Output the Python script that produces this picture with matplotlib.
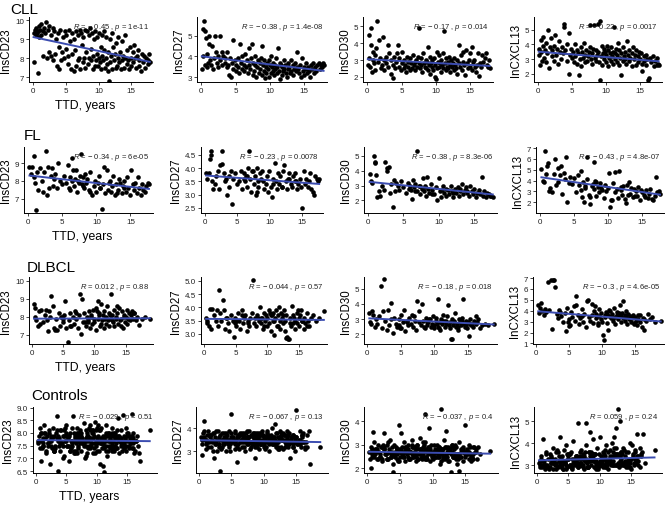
import matplotlib
matplotlib.use("Agg")
import matplotlib.pyplot as plt

plt.rcParams['font.family'] = ['Liberation Sans', 'DejaVu Sans']
plt.rcParams['mathtext.fontset'] = 'custom'
plt.rcParams['mathtext.it'] = 'Liberation Sans:italic'
plt.rcParams['mathtext.rm'] = 'Liberation Sans'

groups = ["CLL", "FL", "DLBCL", "Controls"]
markers = ["InsCD23", "InsCD27", "InsCD30", "InCXCL13"]

# ---- CLL ----
cll_ttd = [0.1,0.2,0.3,0.4,0.5,0.6,0.7,0.8,0.9,1.0,
           1.1,1.2,1.3,1.5,1.6,1.7,1.9,2.0,2.1,2.3,
           2.4,2.5,2.7,2.8,3.0,3.1,3.2,3.4,3.5,3.7,
           3.8,3.9,4.0,4.2,4.3,4.5,4.6,4.7,4.9,5.0,
           5.1,5.3,5.4,5.5,5.7,5.8,5.9,6.0,6.2,6.3,
           6.4,6.5,6.6,6.8,6.9,7.0,7.1,7.2,7.4,7.5,
           7.6,7.7,7.8,7.9,8.0,8.1,8.2,8.4,8.5,8.6,
           8.7,8.8,8.9,9.0,9.1,9.2,9.3,9.4,9.5,9.6,
           9.7,9.8,9.9,10.0,10.1,10.2,10.3,10.4,10.5,10.6,
           10.7,10.8,10.9,11.0,11.1,11.2,11.3,11.4,11.5,11.6,
           11.7,11.8,11.9,12.0,12.1,12.2,12.3,12.5,12.6,12.7,
           12.8,12.9,13.0,13.1,13.3,13.4,13.5,13.6,13.8,13.9,
           14.0,14.1,14.3,14.4,14.5,14.7,14.8,14.9,15.0,15.2,
           15.3,15.4,15.6,15.7,15.9,16.0,16.1,16.2,16.4,16.6,
           16.7,16.9,17.1,17.3,17.5,17.6,17.7,17.8]
cll_cd23 = [9.3,7.8,9.5,9.2,9.6,9.3,7.2,9.4,9.1,9.7,
            9.5,9.2,9.8,9.4,8.1,9.6,9.3,9.9,8.0,9.5,
            8.3,9.7,9.2,8.1,9.6,7.9,9.4,8.2,9.0,7.6,
            9.3,7.4,8.6,9.5,7.9,8.3,9.1,8.0,9.4,8.5,
            9.2,7.7,8.1,9.5,8.9,7.4,9.3,8.2,9.0,7.3,
            8.4,9.4,7.6,9.2,7.9,8.0,9.5,7.4,9.3,8.7,
            7.8,9.1,8.0,9.5,7.5,8.3,9.4,7.7,9.2,8.0,
            9.6,7.9,8.5,9.3,7.4,8.1,9.0,7.6,9.4,7.9,
            8.2,9.1,7.6,8.0,9.3,7.8,8.6,7.4,9.2,8.1,
            7.9,8.4,9.4,7.5,8.0,9.1,7.7,8.3,7.3,6.8,
            9.0,7.8,8.1,7.4,9.3,8.6,7.9,8.2,7.5,8.8,
            7.6,8.0,9.1,7.8,8.3,7.4,8.9,7.9,8.1,7.5,
            9.2,8.0,7.7,8.4,7.9,7.4,8.6,8.0,7.6,8.3,
            7.8,8.7,8.0,7.5,8.1,8.4,7.6,7.9,7.3,8.2,
            7.8,8.1,7.5,8.0,7.9,7.7,8.2,7.8]
cll_cd27 = [3.4,4.0,5.3,5.7,5.2,3.6,4.9,3.5,4.1,3.7,
            5.0,4.6,3.8,3.6,4.5,3.4,3.9,5.0,4.2,3.7,
            3.5,4.0,5.0,3.8,4.2,3.6,4.0,3.7,3.9,3.5,
            4.2,3.6,3.1,3.9,3.0,3.7,4.8,3.4,3.8,3.6,
            3.3,3.9,3.5,3.2,4.6,3.7,3.4,4.0,3.6,3.3,
            4.1,3.5,3.8,3.2,3.6,4.4,3.4,3.9,4.6,3.1,
            3.7,3.3,3.6,4.0,3.0,3.5,3.8,3.2,3.7,3.4,
            3.9,3.1,4.5,3.6,3.3,3.8,2.95,3.5,3.2,3.7,
            3.4,3.0,3.8,3.6,3.2,4.0,3.5,3.3,3.7,3.1,
            3.6,3.4,3.9,3.2,3.5,4.4,3.3,3.7,2.9,3.6,
            3.1,3.5,3.3,3.8,3.4,3.6,3.2,3.0,3.7,3.4,
            3.5,3.2,3.8,3.3,3.6,3.1,3.4,3.7,3.3,3.5,
            4.2,3.4,3.2,3.6,3.0,3.9,3.3,3.5,3.1,3.4,
            3.7,3.2,3.5,3.3,3.0,3.6,3.4,3.7,3.2,3.5,
            3.3,3.6,3.7,3.4,3.6,3.5,3.7,3.6]
cll_cd30 = [2.7,3.1,4.5,2.6,4.9,3.9,2.3,3.5,3.0,2.8,
            3.3,2.4,3.7,5.3,2.9,4.2,3.1,2.5,2.7,4.35,
            3.0,2.4,3.2,2.8,3.9,2.6,3.4,2.2,3.0,1.95,
            2.7,3.2,2.5,2.9,3.4,3.9,2.6,3.1,2.4,2.8,
            3.5,2.5,3.0,2.7,2.3,3.2,2.6,2.9,2.4,3.1,
            2.8,2.5,3.3,2.7,2.9,2.4,3.0,2.6,3.2,2.8,
            4.9,2.5,3.1,2.7,2.3,3.4,2.8,2.6,3.0,2.5,
            2.9,3.8,2.4,2.7,3.2,2.2,2.8,2.6,3.0,2.4,
            3.1,2.0,2.7,1.9,3.5,2.5,2.9,2.6,3.3,2.8,
            2.3,3.0,2.7,2.5,3.4,4.7,2.8,2.4,3.1,2.6,
            2.9,2.5,3.2,2.7,2.3,3.0,2.6,2.8,2.4,3.1,
            2.7,2.5,3.0,2.2,3.9,2.8,2.6,3.3,2.4,2.9,
            3.5,2.7,2.1,3.6,2.8,2.5,3.0,3.4,2.6,3.8,
            2.4,2.9,3.0,2.6,2.3,2.7,3.4,2.05,2.8,2.6,
            3.3,2.9,3.1,3.4,2.7,2.6,3.0,2.5]
cll_cxcl13 = [3.3,3.7,2.6,3.5,4.3,2.9,3.9,4.5,3.1,3.6,
              2.8,4.1,3.4,5.0,2.4,3.8,4.4,3.2,3.6,2.9,
              3.9,4.6,3.3,3.7,2.7,4.2,3.5,3.0,3.8,3.4,
              5.4,5.2,3.6,2.9,4.0,2.0,4.8,3.3,3.7,3.1,
              3.5,2.8,4.0,3.2,3.6,2.7,3.4,1.9,3.0,3.8,
              2.5,3.5,3.1,4.1,2.8,3.3,3.6,2.9,3.2,3.5,
              3.8,5.3,3.0,3.4,2.7,3.7,5.3,3.1,3.6,2.9,
              3.3,5.4,3.5,2.8,1.6,5.6,3.2,3.9,2.6,3.4,
              3.7,3.0,3.5,2.8,3.3,3.9,2.5,3.6,3.1,3.4,
              2.9,3.8,3.2,3.5,2.7,5.2,3.4,3.0,3.7,2.8,
              3.3,4.1,2.6,3.6,3.1,1.9,3.4,2.9,3.8,3.2,
              3.0,3.5,2.7,4.2,3.3,2.9,3.6,3.1,2.5,3.4,
              3.8,3.0,3.3,2.6,3.6,3.2,2.8,3.5,3.0,3.4,
              2.7,2.2,3.2,2.9,3.3,2.6,3.0,1.6,1.7,3.1,
              2.8,3.2,2.5,2.9,2.6,3.1,2.7,2.6]

# ---- FL ----
fl_ttd = [0.2,0.4,0.6,0.8,0.9,1.0,1.1,1.3,1.5,1.7,
          2.0,2.2,2.4,2.6,2.7,2.9,3.1,3.3,3.5,3.7,
          3.8,4.0,4.2,4.4,4.7,5.0,5.3,5.6,5.8,6.0,
          6.1,6.2,6.4,6.5,6.7,6.9,7.0,7.2,7.4,7.6,
          7.8,7.9,8.0,8.2,8.3,8.5,8.7,8.9,9.1,9.4,
          9.6,9.8,10.0,10.2,10.4,10.6,10.8,11.0,11.1,11.3,
          11.5,11.7,11.9,12.1,12.3,12.5,12.7,12.9,13.1,13.3,
          13.5,13.7,13.9,14.1,14.3,14.5,14.7,14.9,15.1,15.3,
          15.5,15.7,15.9,16.1,16.3,16.5,16.7,16.9,17.1,17.3,
          17.5,17.7,6.6,7.3,8.1,9.0,10.5,12.0,13.0,14.0]
fl_cd23 = [8.8,8.4,8.8,9.4,8.2,7.9,6.35,8.5,7.5,8.7,
           8.0,7.4,8.5,9.7,7.2,8.8,7.6,8.3,8.7,7.7,
           8.1,8.4,7.6,9.0,8.0,7.8,8.3,7.9,8.9,7.6,
           8.2,7.5,9.3,8.0,7.7,8.1,8.6,7.4,7.9,8.3,
           9.5,7.8,8.2,7.6,8.4,7.9,8.1,7.5,8.5,7.2,
           7.7,8.0,7.4,7.9,8.3,7.6,6.4,7.8,8.8,7.3,
           8.6,7.5,7.9,7.4,7.7,8.3,7.2,7.8,7.5,8.1,
           7.9,7.3,7.7,8.0,7.4,8.2,7.6,7.2,8.6,7.8,
           7.5,7.9,7.3,8.2,7.6,7.2,7.8,7.5,7.4,7.7,
           7.9,7.8,8.6,8.0,7.7,7.4,7.6,8.0,7.3,7.6]
fl_cd27 = [3.8,3.6,3.8,4.35,4.65,4.5,3.5,3.2,3.4,3.7,
           3.9,3.2,4.1,4.15,4.65,3.8,3.5,3.6,3.0,3.7,
           3.3,3.9,2.65,3.6,3.8,3.4,3.5,3.9,3.2,3.6,
           3.8,3.5,3.7,3.3,4.0,4.65,3.6,3.1,3.9,3.4,
           3.7,3.0,4.0,3.5,3.3,3.8,3.6,3.9,3.2,3.4,
           3.7,3.1,3.9,3.3,2.9,3.6,4.2,3.5,3.2,3.8,
           3.4,3.7,3.3,3.9,4.1,3.5,3.2,3.6,3.8,3.4,
           3.3,3.7,3.8,3.5,3.2,3.4,3.6,3.3,2.5,3.9,
           3.4,3.6,3.3,3.5,3.8,3.2,3.1,3.0,3.7,3.6,
           3.5,3.6,3.7,3.9,3.1,3.5,3.4,3.3,3.6,3.5]
fl_cd30 = [3.75,3.3,3.2,5.0,4.6,4.5,3.7,2.2,2.6,2.3,
           3.0,2.7,4.6,4.0,4.2,4.25,2.5,3.1,1.55,3.4,
           2.6,3.2,3.0,2.7,3.3,2.9,2.5,3.2,2.8,3.0,
           2.7,2.1,3.4,2.9,3.1,2.6,5.35,3.0,2.4,2.8,
           3.5,2.6,3.0,2.3,3.6,2.8,2.5,3.1,2.7,2.4,
           2.9,2.0,3.5,2.6,2.2,3.0,2.5,2.8,2.3,2.7,
           2.4,3.0,2.6,2.2,2.8,2.5,2.9,2.3,2.6,3.1,
           2.4,2.7,2.9,2.5,2.3,3.0,2.6,2.4,2.8,2.2,
           2.5,2.7,2.4,3.6,2.3,2.6,2.2,2.5,2.4,2.3,
           2.3,2.2,2.6,3.0,2.9,2.4,2.7,2.5,2.8,2.6]
fl_cxcl13 = [5.1,4.0,3.9,6.75,4.6,5.3,5.6,3.0,3.3,2.9,
             4.6,6.0,3.6,5.2,3.9,4.5,5.3,2.8,4.7,4.1,
             6.2,2.0,3.8,4.3,3.7,4.2,2.9,4.5,3.6,4.9,
             3.1,2.5,3.9,2.0,3.3,4.1,6.2,2.7,1.8,3.5,
             3.7,3.2,5.7,2.6,3.9,3.4,2.9,3.8,3.1,2.4,
             3.6,3.0,3.3,4.7,1.55,2.2,3.8,2.9,4.8,3.2,
             2.4,4.9,3.1,2.7,3.5,2.3,1.9,3.6,3.9,2.8,
             3.3,2.5,3.2,3.0,2.6,3.4,2.2,3.1,2.9,2.7,
             2.5,3.1,2.4,2.8,3.2,2.3,2.2,2.6,4.3,2.9,
             3.0,2.8,3.5,2.5,4.0,3.3,2.2,3.4,2.7,2.6]

# ---- DLBCL ----
dlbcl_ttd = [0.3,0.4,0.5,0.7,0.9,1.1,1.3,1.5,1.8,2.0,
             2.2,2.5,2.7,2.9,3.1,3.3,3.5,3.8,4.0,4.3,
             4.5,4.7,4.9,5.1,5.3,5.5,5.7,5.9,6.1,6.3,
             6.5,6.7,6.9,7.1,7.3,7.5,7.7,7.8,8.0,8.2,
             8.4,8.6,8.8,9.0,9.1,9.3,9.5,9.6,9.8,9.9,
             10.0,10.2,10.3,10.5,10.6,10.8,10.9,11.0,11.2,11.3,
             11.5,11.6,11.8,11.9,12.0,12.2,12.3,12.4,12.6,12.7,
             12.8,13.0,13.1,13.2,13.4,13.5,13.7,13.8,14.0,14.1,
             14.3,14.4,14.6,14.7,14.9,15.0,15.2,15.3,15.5,15.7,
             15.8,16.0,16.2,16.4,16.6,16.9,17.2,17.6,18.1,18.9,
             2.4,3.6,5.0,6.0,7.0,8.5,9.4,10.4,11.1,12.5,
             12.9,13.6,14.2,14.8,15.4,16.3,4.8,8.9,10.7,11.7]
dlbcl_cd23 = [8.7,8.0,8.5,7.8,7.5,8.3,7.6,8.4,7.7,8.1,
              8.4,7.2,8.3,8.0,9.15,8.6,7.4,7.9,7.3,8.2,
              7.5,8.0,7.7,8.1,8.85,7.4,6.6,7.8,8.2,7.5,
              8.0,7.6,8.3,7.9,7.4,8.1,9.25,7.05,9.0,7.7,
              8.2,7.5,8.0,7.8,8.3,7.4,8.1,7.6,8.4,7.9,
              7.7,8.5,7.3,8.9,7.9,8.2,7.5,8.7,7.8,8.1,
              7.4,8.3,8.0,7.6,8.6,7.8,8.2,7.5,7.9,9.25,
              8.1,7.7,8.4,7.5,8.0,7.9,8.2,7.6,8.5,7.8,
              7.9,8.3,7.4,8.1,7.7,8.0,8.4,7.6,8.2,7.8,
              8.1,8.3,7.9,8.2,7.8,8.0,7.55,7.9,8.0,7.9,
              7.8,7.3,7.9,7.5,8.2,7.7,8.0,8.3,7.6,8.1,
              7.8,8.6,7.5,8.0,7.9,8.2,8.0,7.7,8.1,7.9]
dlbcl_cd27 = [3.6,3.4,3.5,3.3,3.95,3.2,3.95,3.7,3.5,3.9,
              3.3,3.8,3.5,4.3,3.9,3.2,3.6,3.4,3.1,3.7,
              3.5,2.9,3.6,3.3,3.8,3.5,3.2,3.9,3.4,3.6,
              3.7,3.1,3.5,3.3,3.6,3.8,5.05,3.4,3.6,3.3,
              3.7,3.5,4.0,3.4,3.6,3.2,3.8,3.5,3.7,3.3,
              3.6,3.9,3.4,3.7,3.1,3.8,3.5,2.95,3.6,3.9,
              3.3,3.7,4.0,3.5,3.2,3.8,3.6,3.4,3.9,3.1,
              3.5,3.7,2.9,2.8,2.8,3.6,3.3,4.05,3.4,3.7,
              3.5,3.2,3.8,3.4,3.6,3.3,3.7,3.9,3.5,3.2,
              3.6,3.4,3.8,3.5,3.3,3.6,3.7,3.5,3.6,3.85,
              4.65,3.6,3.5,3.7,3.4,3.6,3.3,3.8,3.5,3.7,
              2.85,3.4,3.6,3.9,3.5,3.3,3.4,3.6,3.7,3.3]
dlbcl_cd30 = [3.4,2.8,2.7,3.5,3.3,2.5,3.0,2.7,3.2,5.2,
              2.4,5.6,2.9,2.3,3.6,2.6,3.0,2.1,3.1,2.7,
              2.5,3.0,2.4,3.3,2.8,3.6,2.2,2.9,2.6,3.1,
              2.7,3.3,2.5,2.9,2.3,4.2,2.8,3.5,2.6,4.0,
              2.9,2.4,3.1,2.6,2.8,3.0,2.5,2.7,3.2,2.4,
              2.6,2.9,3.1,4.3,2.5,2.8,2.3,3.0,2.7,3.3,
              2.9,2.5,2.7,3.2,3.9,2.6,2.4,2.8,1.7,3.0,
              2.6,2.9,3.4,2.5,2.7,2.3,3.0,2.8,2.6,3.1,
              4.35,2.7,2.5,2.9,2.4,2.8,1.9,3.0,2.6,2.7,
              2.5,2.9,2.7,2.8,3.0,2.4,2.6,2.7,2.6,2.65,
              3.5,4.05,2.4,2.8,3.2,2.5,3.0,2.7,2.9,1.7,
              2.8,2.5,2.9,2.6,2.7,3.2,2.6,2.8,2.4,2.9]
dlbcl_cxcl13 = [4.5,3.8,4.3,4.7,4.0,3.6,4.2,3.9,6.6,4.1,
                6.8,6.85,6.85,6.2,3.7,3.3,4.1,3.5,3.0,3.8,
                2.1,4.3,3.2,2.7,3.9,3.4,4.4,3.1,5.4,3.6,
                2.8,3.3,4.2,3.0,3.7,2.5,4.9,5.0,3.4,3.1,
                3.6,2.9,4.0,3.3,3.7,2.7,3.5,4.2,3.2,3.8,
                3.0,1.8,1.3,3.6,3.9,2.9,2.2,3.5,4.0,3.3,
                3.7,3.1,4.3,3.4,2.8,3.6,3.9,3.2,3.5,4.5,
                3.0,3.8,3.3,4.9,3.6,3.1,3.4,2.8,3.7,3.2,
                3.5,3.0,3.3,3.6,2.9,3.4,3.1,2.7,3.2,3.0,
                3.6,2.5,3.3,2.2,3.1,3.7,3.2,3.4,3.0,3.1,
                2.3,3.9,2.6,4.5,3.5,4.6,2.9,3.4,4.1,3.8,
                3.5,4.0,3.3,2.8,3.6,3.2,3.0,4.4,3.7,3.3]

# ---- Controls ----
ctrl_ttd = [0.3,0.5,0.6,0.8,1.0,1.1,1.3,1.5,1.6,1.8,
            2.0,2.1,2.3,2.5,2.6,2.8,3.0,3.1,3.3,3.5,
            3.6,3.8,4.0,4.1,4.3,4.5,4.6,4.8,5.0,5.1,
            5.3,5.5,5.6,5.8,6.0,6.1,6.3,6.5,6.6,6.8,
            7.0,7.1,7.3,7.5,7.6,7.8,8.0,8.1,8.3,8.5,
            8.6,8.8,9.0,9.1,9.3,9.5,9.6,9.8,10.0,10.1,
            10.3,10.5,10.6,10.8,11.0,11.1,11.3,11.5,11.6,11.8,
            12.0,12.1,12.3,12.5,12.6,12.8,13.0,13.1,13.3,13.5,
            13.6,13.8,14.0,14.1,14.3,14.5,14.6,14.8,15.0,15.1,
            15.3,15.5,15.6,15.8,16.0,16.2,16.5,16.8,17.2,18.8,
            0.4,0.9,1.4,1.9,2.4,2.9,3.4,3.9,4.4,4.9,
            5.4,5.9,6.4,6.9,7.4,7.9,8.4,8.9,9.4,9.9,
            10.4,10.9,11.4,11.9,12.4,12.9,13.4,13.9,14.4,14.9,
            15.4,15.9,16.4,7.2,8.2,9.2,10.2,11.2,12.2,13.2,
            0.7,1.2,1.7,2.2,2.7,3.2,3.7,4.2,4.7,5.2,
            5.7,6.2,6.7,7.7,8.7,9.7,10.7,11.7,12.7,13.7,
            14.2,14.7,15.2,15.7,16.1,16.7,17.0,6.9,8.8,9.9,
            10.9,11.9,12.9,13.9,7.5,8.3,9.3,10.2,11.3,12.3,
            1.2,2.4,3.6,4.8,5.6,6.4,7.6,8.6,9.6,10.6,
            11.6,12.6,13.6,14.6,15.6,3.0,5.0,7.0,9.0,11.0,
            0.5,1.0,1.5,2.0,2.5,3.0,3.5,4.0,4.5,5.0,
            5.5,6.0,6.5,7.0,7.5,8.0,8.5,9.0,9.5,10.0,
            10.5,11.0,11.5,12.0,12.5,13.0,13.5,14.0,14.5,15.0,
            15.5,16.0,1.1,2.6,4.1,5.6,7.1,8.6,10.1,11.6,
            13.1,14.6,16.1,0.8,2.3,3.8,5.3,6.8,8.3,9.8,
            11.3,12.8,14.3,15.8,6.2,7.3,8.9,10.4,12.1,13.4,
            9.1,10.8,12.4,13.8,6.6,7.8,9.4,11.1,12.7,14.0,
            4.6,5.9,7.4,8.2,9.7,10.9,12.2,13.3,14.9,16.6]
ctrl_cd23 = [7.6,7.9,7.4,8.0,7.7,7.5,8.3,7.8,7.2,7.9,
             7.6,8.1,6.8,7.7,7.4,8.2,7.9,7.5,8.0,8.65,
             6.5,7.8,7.3,8.1,7.6,7.9,7.1,7.7,8.3,7.5,
             7.8,6.9,8.0,7.4,7.7,8.65,7.2,7.9,7.6,8.2,
             7.5,7.9,8.1,7.3,7.8,7.6,8.4,7.0,7.7,8.0,
             7.4,8.2,7.8,7.5,8.0,7.2,7.9,8.45,7.6,7.3,
             7.9,6.8,8.1,7.6,6.7,7.8,7.4,8.3,7.7,7.1,
             8.0,7.5,7.9,7.3,8.2,7.7,7.4,8.0,7.6,8.6,
             7.8,7.2,7.5,8.1,8.7,7.6,7.9,7.3,8.0,7.7,
             7.4,7.9,7.6,8.75,7.8,7.2,7.7,7.5,6.9,8.1,
             7.7,6.9,8.0,7.5,7.8,7.3,8.1,7.6,7.0,7.9,
             7.5,8.2,7.7,7.4,8.0,7.6,7.2,8.3,7.8,7.5,
             8.1,7.6,7.9,7.3,7.7,8.0,7.4,7.8,7.6,8.2,
             7.5,7.9,7.3,7.8,7.5,8.1,7.7,6.45,7.9,7.4,
             8.2,7.6,7.3,8.0,7.8,7.4,7.9,7.6,8.1,7.5,
             7.7,7.3,8.0,7.6,7.8,7.2,8.2,7.9,7.5,7.7,
             7.3,7.8,8.0,7.6,7.4,7.9,7.2,7.8,7.5,8.1,
             7.6,8.0,7.3,7.7,7.9,7.1,7.6,8.3,7.8,7.4,
             7.8,7.5,7.7,8.2,7.3,7.8,7.6,7.9,7.4,7.7,
             8.0,7.6,7.9,7.5,7.8,7.3,8.0,7.7,8.1,7.6,
             7.7,7.4,8.0,7.6,7.9,7.3,7.8,8.1,7.5,7.7,
             7.9,7.6,7.2,8.0,7.7,7.5,7.9,7.4,8.1,7.8,
             7.6,7.9,7.3,7.7,8.0,7.5,7.8,7.6,7.4,7.9,
             7.7,8.0,7.5,7.8,7.6,7.3,7.9,7.7,8.2,7.5,
             7.8,7.4,7.6,8.0,7.7,7.5,7.9,7.2,7.8,7.6,
             7.5,7.9,7.7,7.4,8.0,7.6,7.8,7.3,7.7,8.1,
             7.6,7.8,7.5,7.9,7.3,7.7,8.0,7.6,7.4,7.8,
             7.9,7.5,7.7,8.1,7.6,7.4,7.8,7.9,7.5,7.7]
ctrl_cd27 = [3.6,3.3,3.8,4.3,3.5,3.1,3.9,3.4,3.7,3.2,
             3.5,3.8,2.7,3.4,3.9,3.0,3.6,3.3,3.7,3.5,
             3.2,3.8,3.4,3.0,3.7,3.5,3.9,3.3,4.6,3.6,
             3.4,3.9,3.1,2.55,3.6,3.3,3.8,3.5,3.2,3.7,
             3.5,3.0,3.8,3.4,3.6,3.9,3.2,3.7,3.3,3.5,
             2.7,3.8,3.4,3.6,3.1,3.7,3.3,3.9,3.5,3.2,
             3.6,3.4,3.8,3.0,3.5,3.7,4.0,3.3,3.6,4.2,
             3.4,3.8,3.2,3.6,3.9,3.5,3.1,3.7,3.4,3.3,
             3.6,3.2,3.8,2.7,3.5,3.3,3.7,3.4,4.8,3.6,
             3.3,3.5,3.9,3.2,3.6,3.4,3.1,3.7,2.45,3.2,
             2.85,3.5,3.2,3.7,3.4,3.9,3.1,3.6,3.3,3.8,
             3.5,3.2,3.7,3.4,3.9,3.1,3.6,3.3,3.8,3.5,
             3.2,3.6,3.4,3.8,3.1,3.5,3.7,3.3,3.6,3.0,
             3.4,3.7,3.2,3.6,3.3,3.8,3.5,3.4,3.1,3.7,
             3.9,3.4,3.6,3.0,3.5,2.15,3.3,3.8,3.2,3.6,
             3.5,3.1,3.8,3.4,3.6,3.3,3.7,3.5,3.2,3.9,
             3.4,3.6,3.3,3.5,3.8,3.2,3.9,3.6,3.3,3.7,
             3.5,3.2,3.7,3.4,3.3,3.8,3.5,3.1,3.6,3.4,
             3.7,3.3,3.5,3.0,3.8,3.4,3.6,3.2,3.5,3.9,
             3.3,3.6,3.4,3.7,3.3,3.5,3.4,3.8,3.6,3.4,
             3.5,3.3,3.7,3.4,3.6,3.2,3.8,3.5,3.4,3.6,
             3.3,3.7,3.5,3.2,3.6,3.4,3.8,3.5,3.3,3.6,
             3.7,3.4,3.5,3.3,3.6,3.8,3.4,3.5,3.2,3.6,
             3.4,3.7,3.5,3.3,3.6,3.4,3.5,3.7,3.3,3.6,
             3.5,3.2,3.4,3.6,3.8,3.3,3.5,3.6,3.4,3.7,
             3.3,3.5,3.6,3.4,3.7,3.5,3.2,3.6,3.4,3.5,
             3.6,3.3,3.5,3.7,3.4,3.6,3.3,3.5,3.8,3.4,
             3.5,3.6,3.3,3.4,3.7,3.5,3.6,3.2,3.5,3.4]
ctrl_cd30 = [2.7,2.0,2.9,2.5,3.1,2.6,2.8,2.4,3.0,2.7,
             2.5,2.9,2.3,3.5,2.8,2.6,3.0,2.4,2.7,3.2,
             2.6,2.9,2.2,3.0,2.5,2.8,2.4,3.85,2.7,3.5,
             2.9,2.5,3.1,2.3,2.8,2.6,3.0,2.4,2.7,3.2,
             2.5,2.9,2.7,2.3,3.0,2.6,2.8,3.3,2.4,2.7,
             3.1,4.3,2.5,2.8,2.6,2.9,2.3,3.0,2.7,2.4,
             2.8,2.5,3.0,2.6,2.9,2.2,4.5,2.7,2.4,3.2,
             3.6,2.6,2.9,2.3,2.7,1.85,3.0,2.5,2.8,2.4,
             2.9,2.6,1.9,3.1,2.5,2.8,2.3,2.7,3.85,2.6,
             2.8,2.4,3.0,2.6,2.5,2.9,2.7,2.4,2.6,2.75,
             2.4,3.55,2.7,2.5,3.0,2.6,2.8,1.85,2.9,2.3,
             2.7,2.9,2.4,3.0,2.6,2.8,2.5,3.1,3.7,2.6,
             2.5,2.8,2.6,2.9,2.3,2.7,3.0,2.4,2.8,2.5,
             2.7,2.3,2.9,2.6,2.8,2.4,3.0,2.7,2.5,2.9,
             2.6,2.8,2.4,2.9,2.6,3.1,2.5,2.7,2.3,2.8,
             2.9,2.5,2.7,2.4,3.0,2.6,2.8,2.5,2.7,2.2,
             2.5,2.8,2.6,2.9,2.4,2.7,2.9,2.6,2.8,2.5,
             2.7,2.4,3.0,2.6,2.8,2.5,2.9,2.7,2.3,2.8,
             2.6,2.9,2.5,2.8,2.7,2.4,3.0,2.6,2.8,2.7,
             2.5,2.8,2.6,2.9,2.7,2.4,2.7,2.9,2.5,2.8,
             2.7,2.5,2.8,2.6,2.9,2.4,2.7,2.6,2.8,2.5,
             2.6,2.8,2.7,2.5,2.9,2.6,2.7,2.4,2.8,2.6,
             2.7,2.5,2.8,2.6,2.7,2.9,2.5,2.6,2.8,2.7,
             2.6,2.4,2.7,2.8,2.6,2.5,2.7,2.9,2.6,2.8,
             2.5,2.7,2.6,2.8,2.4,2.7,2.6,2.9,2.5,2.7,
             2.8,2.6,2.7,2.5,2.8,2.6,2.4,2.7,2.9,2.6,
             2.7,2.5,2.8,2.6,2.7,2.4,2.8,2.6,2.7,2.5,
             2.6,2.8,2.5,2.7,2.6,2.9,2.7,2.5,2.6,2.8]
ctrl_cxcl13 = [3.1,2.9,3.4,3.0,4.2,3.2,2.8,3.6,3.0,3.3,
               2.9,3.5,3.1,3.8,2.8,3.3,3.0,3.6,2.9,3.2,
               4.3,3.0,3.4,2.8,3.7,3.1,3.9,2.9,3.3,3.5,
               3.0,3.6,2.8,4.1,3.2,3.0,3.4,4.9,2.9,3.3,
               3.7,3.0,3.5,2.8,3.2,3.9,3.1,2.9,3.6,4.5,
               3.0,3.3,4.2,2.9,3.5,3.1,3.8,2.8,4.3,3.2,
               3.0,3.6,2.9,3.4,3.1,3.9,2.8,3.3,3.7,3.0,
               4.0,3.2,4.3,3.5,4.7,3.0,3.4,2.9,5.0,3.6,
               3.1,3.8,3.0,3.4,2.9,3.6,3.2,4.0,3.3,2.8,
               3.5,3.0,3.7,3.2,4.4,3.4,2.9,3.6,3.1,3.7,
               3.2,3.0,3.5,2.8,3.3,3.0,3.6,2.9,3.1,3.4,
               2.9,3.3,3.1,3.6,3.0,4.9,3.4,3.2,2.8,3.5,
               3.3,2.9,3.6,3.1,3.4,5.55,3.0,3.7,3.2,2.9,
               3.4,3.1,3.8,3.3,2.9,3.5,3.2,3.0,3.6,3.4,
               3.3,3.0,2.9,3.4,3.1,3.7,3.0,3.2,2.8,3.5,
               3.1,3.4,3.0,3.6,3.3,2.9,3.5,3.2,3.8,3.0,
               3.6,3.2,3.9,3.3,3.0,3.5,4.4,3.1,3.4,3.0,
               3.7,3.2,3.5,3.0,3.3,3.6,2.9,3.4,3.1,3.8,
               3.0,3.3,3.1,3.5,2.9,3.4,3.2,3.6,3.0,3.3,
               3.4,3.0,3.5,3.2,3.6,3.1,3.3,3.0,3.5,3.2,
               3.0,3.2,2.9,3.3,3.1,2.8,3.4,3.0,3.2,3.5,
               2.9,3.1,3.3,3.0,3.4,2.9,3.2,3.5,3.1,3.0,
               3.3,2.9,3.2,3.4,3.0,3.1,3.6,3.2,2.9,3.3,
               3.1,3.4,3.0,3.2,2.8,3.3,3.1,3.5,3.0,3.2,
               3.4,3.0,3.2,2.9,3.1,3.3,3.0,3.4,3.2,2.9,
               3.1,3.5,3.0,3.3,3.2,2.9,3.4,3.1,3.0,3.3,
               3.2,3.0,3.4,3.1,2.9,3.3,3.2,3.0,3.5,3.1,
               3.0,3.2,3.4,2.9,3.1,3.3,3.0,3.2,3.1,3.4]

# fitted line values at the first and last TTD of each group
fit_start = [[9.1, 4.0, 3.05, 3.5], [8.3, 3.72, 3.25, 4.3],
             [7.9, 3.57, 3.05, 3.95], [7.72, 3.48, 2.7, 3.22]]
fit_end = [[7.8, 3.3, 2.65, 2.85], [7.55, 3.4, 2.4, 2.7],
           [7.92, 3.53, 2.65, 3.02], [7.68, 3.4, 2.62, 3.35]]

stat_labels = [
    ["$R$ = − 0.45 , $p$ = 1e-11", "$R$ = − 0.38 , $p$ = 1.4e-08",
     "$R$ = − 0.17 , $p$ = 0.014", "$R$ = − 0.22 , $p$ = 0.0017"],
    ["$R$ = − 0.34 , $p$ = 6e-05", "$R$ = − 0.23 , $p$ = 0.0078",
     "$R$ = − 0.38 , $p$ = 8.3e-06", "$R$ = − 0.43 , $p$ = 4.8e-07"],
    ["$R$ = 0.012 , $p$ = 0.88", "$R$ = − 0.044 , $p$ = 0.57",
     "$R$ = − 0.18 , $p$ = 0.018", "$R$ = − 0.3 , $p$ = 4.6e-05"],
    ["$R$ = − 0.029 , $p$ = 0.51", "$R$ = − 0.067 , $p$ = 0.13",
     "$R$ = − 0.037 , $p$ = 0.4", "$R$ = 0.059 , $p$ = 0.24"],
]

ttd = [cll_ttd, fl_ttd, dlbcl_ttd, ctrl_ttd]
vals = [[cll_cd23, cll_cd27, cll_cd30, cll_cxcl13],
        [fl_cd23, fl_cd27, fl_cd30, fl_cxcl13],
        [dlbcl_cd23, dlbcl_cd27, dlbcl_cd30, dlbcl_cxcl13],
        [ctrl_cd23, ctrl_cd27, ctrl_cd30, ctrl_cxcl13]]

# axis settings
xlims = [(-0.6, 18.3), (-0.6, 18.3), (-0.5, 19.4), (-0.5, 20.0)]
ylims = [[(6.74, 10.16), (2.76, 5.9), (1.7, 5.55), (1.45, 5.85)],
         [(6.2, 9.9), (2.3, 4.8), (1.15, 5.6), (1.0, 7.1)],
         [(6.5, 10.2), (2.62, 5.15), (1.37, 5.76), (0.95, 7.1)],
         [(6.43, 9.02), (2.06, 4.92), (1.8, 4.6), (2.64, 5.65)]]
yticks = [[[7, 8, 9, 10], [3, 4, 5], [2, 3, 4, 5], [2, 3, 4, 5]],
          [[7, 8, 9], [2.5, 3.0, 3.5, 4.0, 4.5], [2, 3, 4, 5], [2, 3, 4, 5, 6, 7]],
          [[7, 8, 9, 10], [3.0, 3.5, 4.0, 4.5, 5.0], [2, 3, 4, 5], [1, 2, 3, 4, 5, 6, 7]],
          [[6.5, 7.0, 7.5, 8.0, 8.5, 9.0], [3, 4], [2, 3, 4], [3, 4, 5]]]

W, H = 668, 506
fig = plt.figure(figsize=(W / 100, H / 100), dpi=100)

# panel edges in pixels
row_top = [18, 148, 278, 408]
row_bot = [83, 214, 345, 474]
lefts = [[29, 197, 363, 534], [24, 201, 364, 536],
         [29, 201, 364, 533], [33, 196, 364, 534]]
rights = [[153, 327, 493, 662], [153, 323, 497, 664],
          [153, 327, 497, 664], [157, 328, 498, 662]]
title_x = [10, 24, 27, 31]
title_y = [14, 140, 272, 400]

for i in range(4):
    for j in range(4):
        l, r = lefts[i][j], rights[i][j]
        t, b = row_top[i], row_bot[i]
        ax = fig.add_axes([l / W, 1 - b / H, (r - l) / W, (b - t) / H])
        x = ttd[i]
        y = vals[i][j]
        ax.scatter(x, y, s=11, c='black', linewidths=0, zorder=2)
        ax.plot([min(x), max(x)], [fit_start[i][j], fit_end[i][j]],
                color='#3b4cb0', lw=1.4, zorder=3)
        ax.set_xlim(*xlims[i])
        ax.set_ylim(*ylims[i][j])
        ax.set_xticks([0, 5, 10, 15])
        ax.set_yticks(yticks[i][j])
        for s in ['top', 'right']:
            ax.spines[s].set_visible(False)
        for s in ['left', 'bottom']:
            ax.spines[s].set_linewidth(0.7)
        ax.tick_params(labelsize=5.8, length=2, width=0.6, pad=1.5,
                       colors='#222222')
        ax.set_ylabel(markers[j], fontsize=8.3, labelpad=2.2)
        ax.text(0.97, 0.86, stat_labels[i][j], transform=ax.transAxes,
                ha='right', va='center', fontsize=5.5, color='#222222')
        if j == 0:
            ax.set_xlabel("TTD, years", fontsize=8.8, labelpad=4)
            ax.xaxis.label.set_x(0.45)
    fig.text(title_x[i] / W, 1 - title_y[i] / H, groups[i],
             fontsize=11, ha='left', va='baseline')

fig.savefig("out.png", dpi=100)
